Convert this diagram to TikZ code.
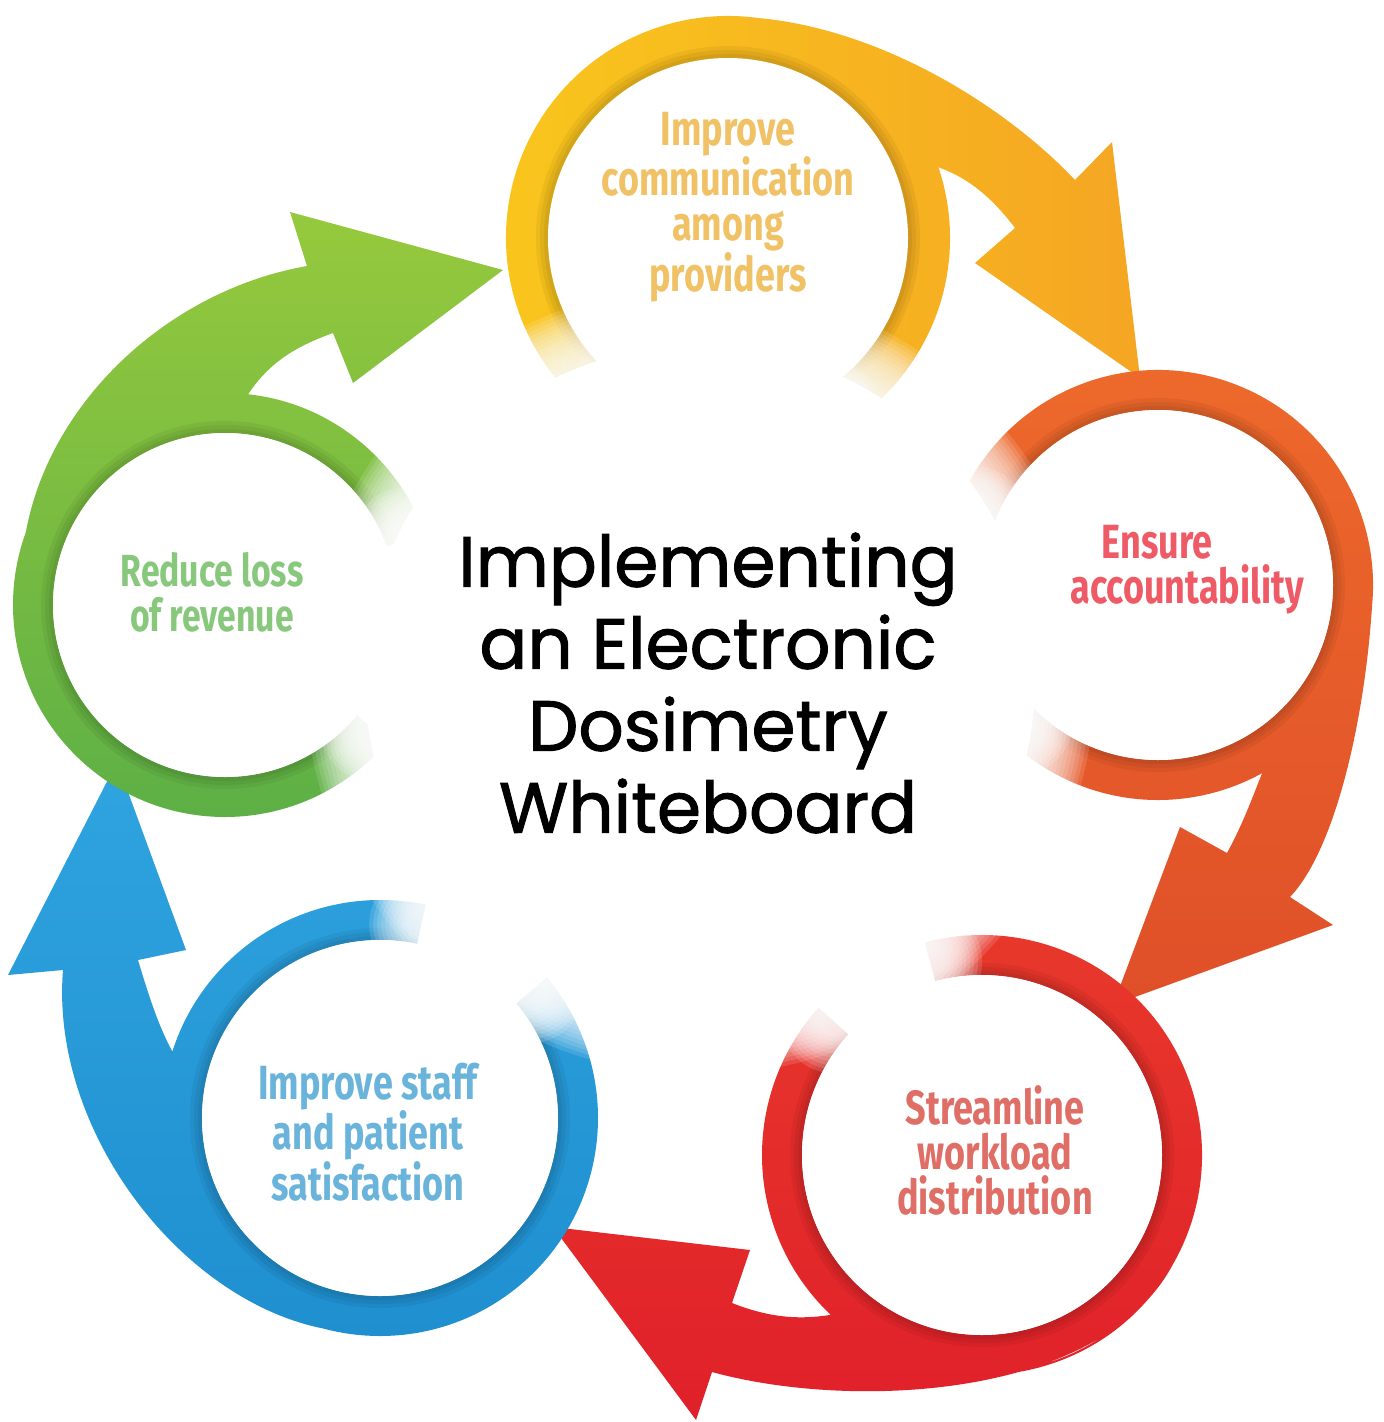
\documentclass[tikz,border=0pt]{standalone}
\usepackage{fontspec}
\setmainfont{Poppins}
\newfontfamily\ttlfont[FakeBold=1.4]{Poppins}
\newfontfamily\handn[FakeStretch=0.75]{Fira Sans}
\usetikzlibrary{calc}
\definecolor{yA}{HTML}{F9C71C}
\definecolor{yB}{HTML}{F5A623}
\definecolor{oA}{HTML}{EE6A2B}
\definecolor{oB}{HTML}{DF4F29}
\definecolor{rA}{HTML}{E8392B}
\definecolor{rB}{HTML}{E0202A}
\definecolor{bA}{HTML}{2FA4DF}
\definecolor{bB}{HTML}{1E8ECF}
\definecolor{gA}{HTML}{96C93D}
\definecolor{gB}{HTML}{5BAF46}
\definecolor{ylab}{HTML}{F0C265}
\definecolor{olab}{HTML}{EE5B66}
\definecolor{rlab}{HTML}{DF6E66}
\definecolor{blab}{HTML}{6AB4DC}
\definecolor{glab}{HTML}{88C87C}
\tikzset{
  unitdisc/.style={circle, fill=white, inner sep=0pt},
  lab/.style={align=center, inner sep=0pt, font=\handn\bfseries\fontsize{48}{45}\selectfont},
  smalllab/.style={lab, font=\handn\bfseries\fontsize{45}{45}\selectfont},
  ttl/.style={align=center, inner sep=0pt, font=\ttlfont\fontsize{71}{82}\selectfont, text=black}
}
\begin{document}
\begin{tikzpicture}[x=1pt,y=-1pt]
\useasboundingbox (0,0) rectangle (1384,1422);
\fill[white] (0,0) rectangle (1384,1422);
\coordinate (Y) at (728,238);
\coordinate (O) at (1158,585);
\coordinate (R) at (982,1155);
\coordinate (B) at (380,1118);
\coordinate (G) at (225,605);
\coordinate (M) at (700,680);

% yellow ring + arrow
\shade[left color=yA, right color=yB]
  ($(Y)+(120:222)$) arc[start angle=120, end angle=420, radius=222]
  -- ($(Y)+(420:178)$) arc[start angle=420, end angle=120, radius=178] -- cycle
  ($(Y)+(-100:222)$) .. controls (830,0) and (990,90) .. (1075,180)
  -- (1112,142) -- (1140,378) -- (975,263) -- (1015,228)
  .. controls (990,195) and (965,175) .. ($(Y)+(-20:215)$)
  arc[start angle=-20, end angle=-100, radius=215] -- cycle;

% orange
\shade[top color=oA, bottom color=oB]
  ($(O)+(-160:215)$) arc[start angle=-160, end angle=135, radius=215]
  -- ($(O)+(135:175)$) arc[start angle=135, end angle=-160, radius=175] -- cycle
  ($(O)+(5:215)$) .. controls (1365,720) and (1335,850) .. (1290,897)
  -- (1333,925) -- (1113,1005) -- (1180,827) -- (1227,853)
  .. controls (1245,820) and (1255,790) .. ($(O)+(60:212)$)
  arc[start angle=60, end angle=5, radius=212] -- cycle;

% red
\shade[top color=rA, bottom color=rB]
  ($(R)+(-105:220)$) arc[start angle=-105, end angle=222, radius=220]
  -- ($(R)+(222:180)$) arc[start angle=222, end angle=-105, radius=180] -- cycle
  ($(R)+(30:220)$) .. controls (1100,1400) and (850,1410) .. (712,1372)
  -- (696,1420) -- (553,1227) -- (750,1250) -- (732,1303)
  .. controls (770,1318) and (800,1320) .. ($(R)+(133:218)$)
  arc[start angle=133, end angle=30, radius=218] -- cycle;

% blue
\shade[top color=bA, bottom color=bB]
  ($(B)+(-40:218)$) arc[start angle=-40, end angle=282, radius=218]
  -- ($(B)+(282:178)$) arc[start angle=282, end angle=-40, radius=178] -- cycle
  ($(B)+(105:218)$) .. controls (180,1300) and (50,1130) .. (63,970)
  -- (8,975) -- (117,762) -- (186,950) -- (138,960)
  .. controls (150,1000) and (160,1030) .. ($(B)+(197:215)$)
  arc[start angle=197, end angle=105, radius=215] -- cycle;

% green
\shade[top color=gA, bottom color=gB]
  ($(G)+(40:212)$) arc[start angle=40, end angle=340, radius=212]
  -- ($(G)+(340:172)$) arc[start angle=340, end angle=40, radius=172] -- cycle
  ($(G)+(200:212)$) .. controls (50,400) and (170,290) .. (307,266)
  -- (290,212) -- (503,270) -- (353,383) -- (333,333)
  .. controls (300,345) and (270,360) .. ($(G)+(-84:210)$)
  arc[start angle=-84, end angle=-160, radius=210] -- cycle;

% inner shadows along each ring
\foreach \cc/\rr/\aa/\bb in {Y/180/120/420, O/175/-160/135, R/180/-105/222, B/178/-40/282, G/172/40/340}{
  \foreach \ww in {8,16,24}{
    \draw[black, opacity=0.05, line width=\ww pt] ($(\cc)+(\aa:\rr)$) arc[start angle=\aa, end angle=\bb, radius=\rr];
  }
}

% soft fades over the ring ends
\foreach \cc/\rr/\aa in {Y/200/120, Y/200/420, O/195/-160, O/195/135, R/200/-105, R/200/222, B/198/-40, B/198/282, G/192/40, G/192/340}{
  \foreach \k in {0,...,9}{
    \fill[white, opacity=0.14] ($(\cc)+(\aa:\rr)$) circle ({52-\k*4});
  }
}

% soft central blob
\foreach \k in {0,...,14}{
  \fill[white, opacity=0.13] (M) circle ({395-\k*4});
}
\fill[white] (M) circle (335);

% unit discs
\node[unitdisc, minimum size=360pt] (dy) at (Y) {};
\node[unitdisc, minimum size=350pt] (do) at (O) {};
\node[unitdisc, minimum size=360pt] (dr) at (R) {};
\node[unitdisc, minimum size=356pt] (db) at (B) {};
\node[unitdisc, minimum size=344pt] (dg) at (G) {};

% labels
\node[lab, text=ylab] (ly) at (728,207) {Improve\\communication\\among\\providers};
\node[lab, text=olab] (lo) at (1187,570) {Ensure\hspace*{60pt}\\accountability};
\node[lab, text=rlab] (lr) at (995,1150) {Streamline\\workload\\distribution};
\node[lab, text=blab] (lb) at (368,1132) {Improve staff\\and patient\\satisfaction};
\node[smalllab, text=glab] (lg) at (212,592) {Reduce loss\\of revenue};

\node[ttl] (title) at (708,683) {Implementing\\an Electronic\\Dosimetry\\Whiteboard};
\end{tikzpicture}
\end{document}
